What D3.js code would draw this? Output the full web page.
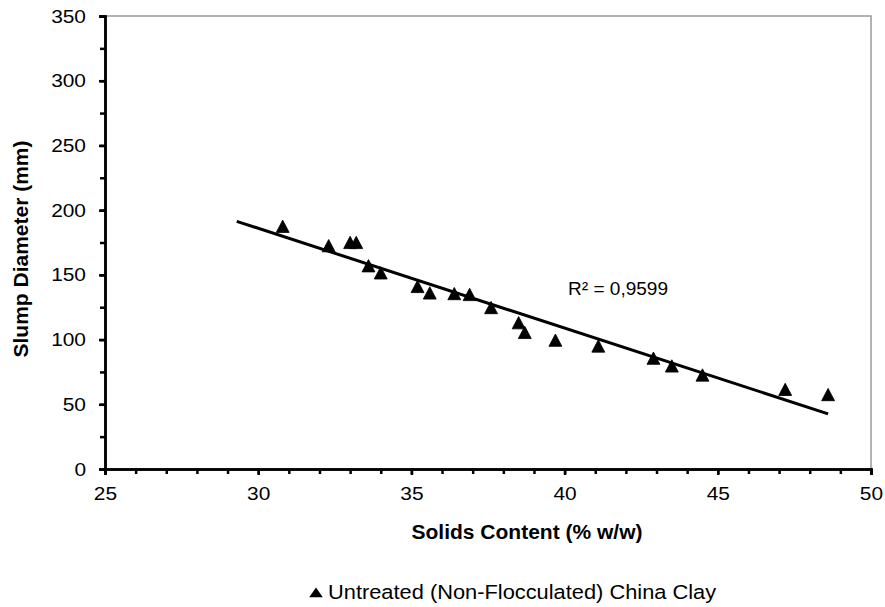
<!DOCTYPE html>
<html>
<head>
<meta charset="utf-8">
<script src="https://cdn.jsdelivr.net/npm/d3@7"></script>
<style>
  body { margin: 0; background: #fff; }
  svg { font-family: "Liberation Sans", Arial, sans-serif; }
</style>
</head>
<body>
<svg id="chart"></svg>
<script>
// data
var solids = [30.8, 32.3, 33.0, 33.2, 33.6, 34.0, 35.2, 35.6, 36.4, 36.9,
  37.6, 38.5, 38.7, 39.7, 41.1, 42.9, 43.5, 44.5, 47.2, 48.6];
var slump = [187.5, 172.5, 175, 175, 157, 151.5, 141, 136, 135.5, 134.8,
  124.7, 113, 105.5, 99.5, 95, 85.6, 79.6, 72.6, 61.5, 57.5];
var xTicks = [25, 30, 35, 40, 45, 50];
var yTicks = [0, 50, 100, 150, 200, 250, 300, 350];
var seriesName = "Untreated (Non-Flocculated) China Clay";
var rSquaredLabel = "R² = 0,9599";

var width = 885, height = 607;
var margin = { top: 16, right: 14, bottom: 138, left: 105 };
var stretch = 1.1; // labels in the picture run a bit wide

var svg = d3.select("svg#chart").attr("width", width).attr("height", height);

var x = d3.scaleLinear().domain([25, 50]).range([margin.left, width - margin.right]);
var y = d3.scaleLinear().domain([0, 350]).range([height - margin.bottom, margin.top]);

// plot border (top/right thin gray)
svg.append("path")
  .attr("d", "M" + x(25) + "," + y(350) + "H" + x(50) + "V" + y(0))
  .attr("fill", "none")
  .attr("stroke", "#999")
  .attr("stroke-width", 1.5);

// minor ticks
var xMinor = d3.range(25, 50.01, 1);
var yMinor = d3.range(0, 350.01, 25);

var gx = svg.append("g").attr("transform", "translate(0," + y(0) + ")");
gx.call(d3.axisBottom(x).tickValues(xMinor).tickSize(5).tickFormat(""));
gx.append("g").call(d3.axisBottom(x).tickValues(xTicks).tickSize(6).tickPadding(12).tickFormat(d3.format("d")));

var gy = svg.append("g").attr("transform", "translate(" + x(25) + ",0)");
gy.call(d3.axisLeft(y).tickValues(yMinor).tickSize(5).tickFormat(""));
gy.append("g").call(d3.axisLeft(y).tickValues(yTicks).tickSize(6).tickPadding(13).tickFormat(d3.format("d")));

svg.selectAll(".domain").attr("stroke", "#000").attr("stroke-width", 2.5);
svg.selectAll(".tick line").attr("stroke", "#000").attr("stroke-width", 2.5);
svg.selectAll(".tick text").attr("font-size", 19).attr("fill", "#000")
  .attr("font-family", "Liberation Sans, Arial, sans-serif")
  .attr("transform", "scale(" + stretch + ",1)");
gy.selectAll(".tick text").attr("x", -19 / stretch);

// linear trendline (least squares), backward forecast 1.5
var n = solids.length;
var mx = d3.mean(solids), my = d3.mean(slump);
var sxy = 0, sxx = 0;
for (var i = 0; i < n; i++) {
  sxy += (solids[i] - mx) * (slump[i] - my);
  sxx += (solids[i] - mx) * (solids[i] - mx);
}
var slope = sxy / sxx, intercept = my - slope * mx;
var x0 = d3.min(solids) - 1.5, x1 = d3.max(solids);

svg.append("line")
  .attr("x1", x(x0)).attr("y1", y(intercept + slope * x0))
  .attr("x2", x(x1)).attr("y2", y(intercept + slope * x1))
  .attr("stroke", "#000")
  .attr("stroke-width", 3);

// points
var tri = d3.symbol().type(d3.symbolTriangle).size(72);
svg.append("g")
  .selectAll("path")
  .data(solids.map(function (d, i) { return { x: d, y: slump[i] }; }))
  .enter()
  .append("path")
  .attr("d", tri)
  .attr("transform", function (d) {
    return "translate(" + x(d.x) + "," + (y(d.y) + 2) + ") scale(1,1.1)";
  })
  .attr("fill", "#000")
  .attr("stroke", "#000")
  .attr("stroke-width", 0.8)
  .attr("stroke-linejoin", "round");

// R² label
svg.append("text")
  .attr("transform", "translate(568,295) scale(1.03,1)")
  .attr("font-size", 18.5)
  .text(rSquaredLabel);

// axis titles
svg.append("text")
  .attr("x", 527).attr("y", 539)
  .attr("text-anchor", "middle")
  .attr("font-size", 21)
  .attr("font-weight", "bold")
  .text("Solids Content (% w/w)");

svg.append("text")
  .attr("transform", "translate(28,249) rotate(-90)")
  .attr("text-anchor", "middle")
  .attr("font-size", 21)
  .attr("font-weight", "bold")
  .text("Slump Diameter (mm)");

// legend
var legend = svg.append("g").attr("transform", "translate(316,594)");
legend.append("path")
  .attr("d", d3.symbol().type(d3.symbolTriangle).size(60))
  .attr("transform", "scale(1.15,0.95)")
  .attr("fill", "#000");
legend.append("text")
  .attr("transform", "translate(12,5) scale(1.12,1)")
  .attr("font-size", 19.5)
  .text(seriesName);
</script>
</body>
</html>
